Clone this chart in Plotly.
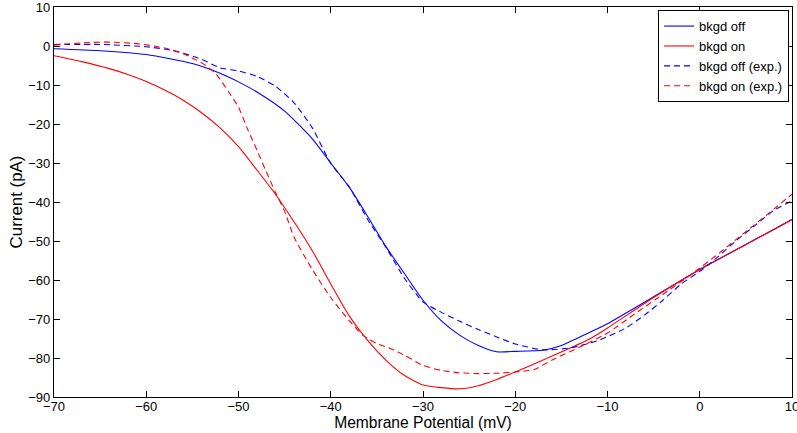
import plotly.graph_objects as go

# --- data ---
off_x = [-70, -65, -60, -55, -52, -50, -48, -45, -42, -40, -38, -36, -34, -32, -30,
         -28, -26, -24, -22, -20, -17, -15, -12, -10, -5, 0, 5, 10]
off_y = [-0.7, -1.2, -2.2, -4.5, -7.0, -9.2, -11.8, -16.7, -23.8, -30.0, -36.2, -43.7,
         -51.5, -58.4, -65.2, -70.5, -74.2, -76.8, -78.4, -78.3, -78.0, -76.8, -73.5,
         -71.2, -64.3, -57.3, -50.9, -44.5]

on_x = [-70, -67, -64, -62, -60, -58, -56, -54, -52, -50, -48, -46, -44, -42, -40,
        -38, -36, -34, -32, -30, -28, -26, -24, -22, -20, -16, -12, -10, -5, 0, 5, 10]
on_y = [-2.5, -4.0, -5.8, -7.3, -9.1, -11.3, -13.9, -17.1, -21.0, -25.8, -31.8, -38.0,
        -45.0, -52.5, -61.0, -69.2, -75.5, -80.6, -84.5, -86.9, -87.6, -87.9, -87.1,
        -85.5, -83.6, -79.5, -75.2, -72.3, -64.5, -57.3, -50.9, -44.5]

off_exp_x = [-70, -65, -60, -57, -54, -52, -50, -48, -46, -44, -42, -40, -38, -36,
             -34, -32, -30, -28, -26, -24, -22, -20, -17, -14, -11, -8, -6, -4, -2,
             0, 2, 4, 6, 8, 10]
off_exp_y = [0.4, 0.4, -0.2, -1.2, -3.4, -5.6, -6.4, -7.8, -10.3, -14.5, -21.0, -30.1,
             -36.1, -44.5, -51.7, -59.6, -65.6, -68.3, -70.6, -72.7, -74.6, -76.4,
             -77.9, -77.4, -75.5, -72.3, -69.0, -65.2, -61.0, -57.8, -54.0, -49.8,
             -46.0, -42.2, -39.7]

on_exp_x = [-70, -67, -64, -61, -58, -56, -54, -52.5, -51, -50, -49, -48, -47, -46,
            -45, -44, -42, -40, -38, -36.5, -35, -33.5, -32, -30, -28, -26, -24, -22,
            -20, -18, -16, -13, -10, -7, -4, -1, 2, 5, 8, 10]
on_exp_y = [0.2, 0.8, 1.0, 0.6, -0.5, -2.0, -4.3, -7.0, -12.0, -15.7, -21.4, -26.7,
            -32.2, -37.5, -42.4, -48.9, -57.3, -64.5, -70.4, -74.2, -76.3, -77.6,
            -79.3, -81.9, -83.2, -83.8, -84.0, -83.9, -83.6, -83.0, -80.5, -77.2,
            -73.6, -68.6, -63.7, -58.7, -53.3, -47.6, -41.9, -38.0]

x_ticks = [-70, -60, -50, -40, -30, -20, -10, 0, 10]
y_ticks = [-90, -80, -70, -60, -50, -40, -30, -20, -10, 0, 10]

BLUE = "rgb(0,0,255)"
RED = "rgb(255,0,0)"
FONT = "Liberation Sans, Arial, sans-serif"


def lbl(vals):
    return [str(v).replace("-", "\u2212") for v in vals]


fig = go.Figure()
fig.add_trace(go.Scatter(x=off_x, y=off_y, mode="lines", name="bkgd off",
                         line=dict(color=BLUE, width=1.1, shape="spline", smoothing=0.6)))
fig.add_trace(go.Scatter(x=on_x, y=on_y, mode="lines", name="bkgd on",
                         line=dict(color=RED, width=1.1, shape="spline", smoothing=0.6)))
fig.add_trace(go.Scatter(x=off_exp_x, y=off_exp_y, mode="lines", name="bkgd off (exp.)",
                         line=dict(color=BLUE, width=1.1, dash="6px,4px",
                                   shape="spline", smoothing=0.6)))
fig.add_trace(go.Scatter(x=on_exp_x, y=on_exp_y, mode="lines", name="bkgd on (exp.)",
                         line=dict(color=RED, width=1.1, dash="6px,4px",
                                   shape="spline", smoothing=0.6)))

axis_common = dict(
    showgrid=False, zeroline=False, showline=True, linecolor="black", linewidth=1.2,
    ticks="inside", ticklen=6, tickcolor="black", tickwidth=1, mirror="ticks",
    ticklabeloverflow="allow", automargin=False,
    tickfont=dict(family=FONT, size=13, color="black"),
)

fig.update_layout(
    width=797, height=433,
    margin=dict(l=54, r=5, t=7, b=36),
    paper_bgcolor="white", plot_bgcolor="white",
    font=dict(family=FONT, size=13, color="black"),
    xaxis=dict(range=[-70, 10], tickvals=x_ticks, ticktext=lbl(x_ticks),
               ticklabelstandoff=-3,
               title=dict(text="Membrane Potential (mV)", standoff=0,
                          font=dict(size=15.6)), **axis_common),
    yaxis=dict(range=[-90, 10], tickvals=y_ticks, ticktext=lbl(y_ticks),
               title=dict(text="Current (pA)", standoff=1, font=dict(size=16.9)),
               **axis_common),
    legend=dict(x=0.996, y=0.992, xanchor="right", yanchor="top",
                bgcolor="white", bordercolor="black", borderwidth=1,
                font=dict(size=13), tracegroupgap=0, itemwidth=30),
    showlegend=True,
)

fig.write_html("out.html")
